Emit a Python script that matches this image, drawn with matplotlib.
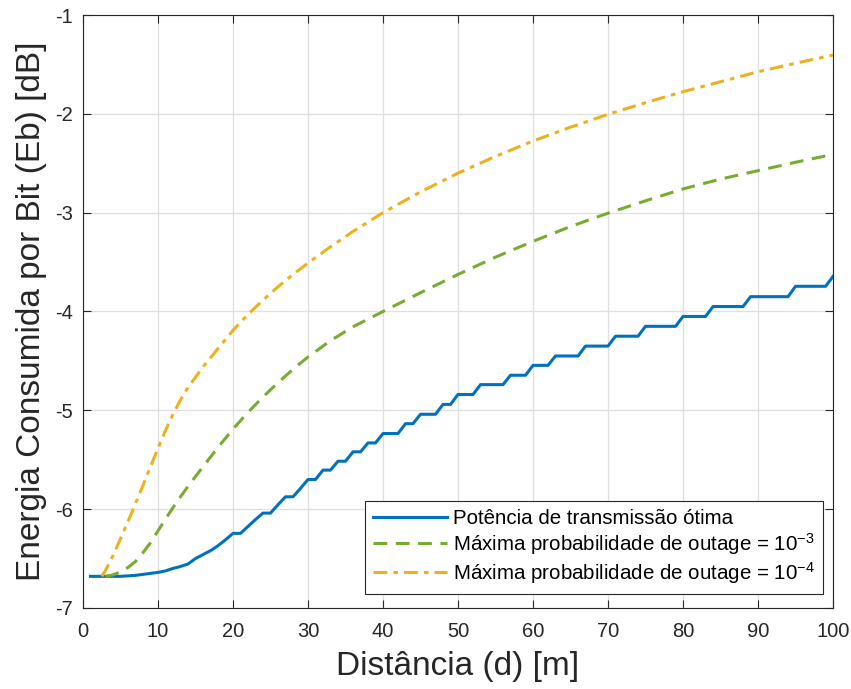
import numpy as np
import matplotlib
matplotlib.use('Agg')
import matplotlib.pyplot as plt

plt.rcParams['font.family'] = ['Liberation Sans', 'DejaVu Sans']
plt.rcParams['axes.unicode_minus'] = False
plt.rcParams['mathtext.fontset'] = 'custom'
plt.rcParams['mathtext.rm'] = 'Liberation Sans'
plt.rcParams['mathtext.it'] = 'Liberation Sans'

# distance [m] and energy per bit [dB]
dist_opt = np.arange(1, 101)
eb_opt = [-6.68, -6.68, -6.68, -6.68, -6.68, -6.675, -6.67, -6.66, -6.65, -6.64,
          -6.625, -6.60, -6.58, -6.555, -6.50, -6.46, -6.42, -6.37, -6.31, -6.245,
          -6.245, -6.175, -6.105, -6.04, -6.04, -5.955, -5.875, -5.875, -5.79, -5.70,
          -5.70, -5.605, -5.605, -5.515, -5.515, -5.42, -5.42, -5.33, -5.33, -5.235,
          -5.235, -5.235, -5.135, -5.135, -5.04, -5.04, -5.04, -4.94, -4.94, -4.84,
          -4.84, -4.84, -4.74, -4.74, -4.74, -4.74, -4.645, -4.645, -4.645, -4.545,
          -4.545, -4.545, -4.45, -4.45, -4.45, -4.45, -4.35, -4.35, -4.35, -4.35,
          -4.25, -4.25, -4.25, -4.25, -4.15, -4.15, -4.15, -4.15, -4.15, -4.05,
          -4.05, -4.05, -4.05, -3.95, -3.95, -3.95, -3.95, -3.95, -3.85, -3.85,
          -3.85, -3.85, -3.85, -3.85, -3.745, -3.745, -3.745, -3.745, -3.745, -3.645]

dist_1e3 = [3, 4, 5, 6, 7, 8, 9, 10, 11, 12, 13, 14, 15, 16, 18, 20, 22, 24, 26, 28,
            30, 33, 36, 40, 45, 50, 55, 60, 65, 70, 75, 80, 85, 90, 95, 100]
eb_1e3 = [-6.68, -6.665, -6.635, -6.59, -6.53, -6.44, -6.34, -6.22, -6.10, -5.985,
          -5.875, -5.77, -5.67, -5.57, -5.375, -5.19, -5.02, -4.865, -4.72, -4.585,
          -4.46, -4.295, -4.155, -4.00, -3.81, -3.625, -3.45, -3.29, -3.14, -3.005,
          -2.88, -2.76, -2.66, -2.575, -2.49, -2.41]

dist_1e4 = [2.5, 3, 4, 5, 6, 7, 8, 9, 10, 11, 12, 13, 14, 16, 18, 20, 22, 24, 26, 28,
            30, 33, 36, 40, 45, 50, 55, 60, 65, 70, 75, 80, 85, 90, 95, 100]
eb_1e4 = [-6.68, -6.62, -6.47, -6.30, -6.125, -5.945, -5.76, -5.57, -5.385, -5.205,
          -5.04, -4.895, -4.77, -4.56, -4.375, -4.19, -4.03, -3.885, -3.75, -3.625,
          -3.51, -3.345, -3.19, -3.00, -2.79, -2.60, -2.43, -2.275, -2.135, -2.005,
          -1.887, -1.776, -1.675, -1.574, -1.488, -1.405]

labels = ['Potência de transmissão ótima',
          r'Máxima probabilidade de outage = 10$^{\mathregular{-3}}$',
          r'Máxima probabilidade de outage = 10$^{\mathregular{-4}}$']

fig = plt.figure(figsize=(8.51, 6.89), dpi=100)
ax = fig.add_axes([0.0975, 0.1176, 0.8814, 0.8606])

ax.plot(dist_opt, eb_opt, '-', color='#0072BD', lw=2.2, label=labels[0])
ax.plot(dist_1e3, eb_1e3, '--', color='#77AC30', lw=2.2, dashes=(4.5, 2.8),
        label=labels[1])
ax.plot(dist_1e4, eb_1e4, '-.', color='#EDB120', lw=2.2, dashes=(4.5, 2.0, 1.5, 2.0),
        label=labels[2])

ax.set_xlim(0, 100)
ax.set_ylim(-7, -1)
ax.set_xticks(np.arange(0, 101, 10))
ax.set_yticks(np.arange(-7, 0, 1))
ax.grid(True, color='#dfdfdf', lw=0.9)
ax.set_axisbelow(True)
for s in ax.spines.values():
    s.set_color('#262626')
    s.set_linewidth(0.8)
ax.tick_params(direction='in', length=5.5, width=0.8, color='#262626',
               labelcolor='#262626', labelsize=14.5, top=True, right=True)
ax.tick_params(axis='x', pad=10)
ax.tick_params(axis='y', pad=7)

ax.set_xlabel('Distância (d) [m]', fontsize=24, color='#262626', labelpad=7)
ax.set_ylabel('Energia Consumida por Bit (Eb) [dB]', fontsize=24,
              color='#262626', labelpad=6)

leg = ax.legend(loc='lower right', bbox_to_anchor=(0.987, 0.0236),
                borderaxespad=0, fontsize=14.8, fancybox=False, framealpha=1,
                edgecolor='#262626', handlelength=3.6, handletextpad=0.3,
                labelspacing=0.15, borderpad=0.4)
leg.get_frame().set_linewidth(0.8)

fig.savefig('out.png', dpi=100)
